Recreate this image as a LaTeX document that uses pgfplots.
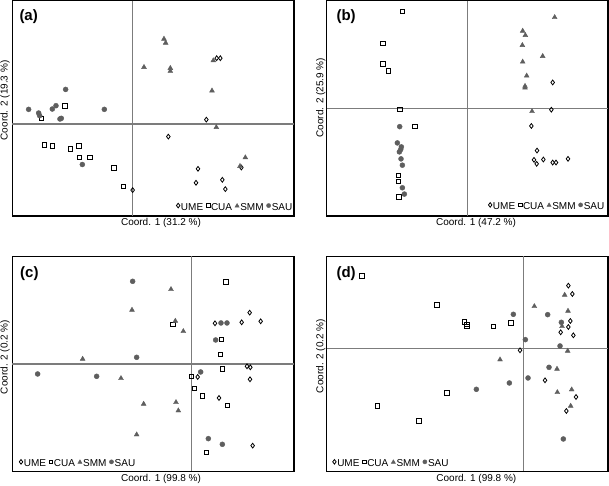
\documentclass[border=0pt]{standalone}
\usepackage{pgfplots}
\pgfplotsset{compat=1.18}
\usepackage{fontspec}
\setmainfont{Liberation Sans}
\definecolor{pt}{HTML}{5E5E5E}
\definecolor{ln}{HTML}{7C7C7C}
\tikzset{
  lab/.style={font=\fontsize{10}{12}\selectfont},
  plab/.style={font=\fontsize{15}{17}\selectfont\bfseries, anchor=west, inner sep=0pt},
}
\pgfplotsset{
  panel/.style={scale only axis, y dir=reverse, xtick=\empty, ytick=\empty,
    axis line style={line width=1.5pt}, clip=false,
    legend columns=-1,
    legend style={draw=none, fill=none, inner sep=0pt, outer sep=0pt,
      font=\fontsize{10}{12}\selectfont,
      nodes={inner sep=0.3pt},
      /tikz/every odd column/.append style={column sep=0.8pt},
      /tikz/every even column/.append style={column sep=2.6pt}}},
  ume/.style={only marks, mark=diamond, mark size=2.4pt, black, mark options={line width=0.8pt, fill=white},
    legend image code/.code={\draw[##1, mark size=2.3pt] plot coordinates {(0pt,1.8pt)};}},
  cua/.style={only marks, mark=square, mark size=2.2pt, black, mark options={line width=0.8pt, fill=white},
    legend image code/.code={\draw[##1, mark size=1.9pt] plot coordinates {(0pt,1.8pt)};}},
  smm/.style={only marks, mark=triangle*, mark size=2.8pt, pt, mark options={draw=pt, fill=pt},
    legend image code/.code={\draw[##1, mark size=2.4pt] plot coordinates {(0pt,1.5pt)};}},
  sau/.style={only marks, mark=*, mark size=2.5pt, pt, mark options={draw=pt, fill=pt},
    legend image code/.code={\draw[##1, mark size=2.1pt] plot coordinates {(0pt,1.8pt)};}},
}
\begin{document}
\begin{tikzpicture}
\useasboundingbox (0,0) rectangle (609pt,-485pt);
% ---------------- (a)
\begin{axis}[panel, at={(12.3pt,-0.7pt)}, anchor=north west, width=281.7pt, height=215.3pt,
  xmin=37, xmax=882, ymin=0, ymax=648,
  legend style={at={(axis cs:878,622)}, anchor=east}]
\draw[ln, line width=1.1pt] (axis cs:398,0) -- (axis cs:398,648);
\draw[ln, line width=1.1pt] (axis cs:37,371) -- (axis cs:882,371);
\addplot[ume] coordinates {(650,173) (661,173) (619,358) (505,409) (594,506) (588,548) (667,539) (676,567) (398,570) (724,502)};
\addplot[cua] coordinates {(195,316) (125,354) (134,434) (157,437) (211,446) (237,437) (238,472) (270,472) (342,503) (370,559)};
\addplot[smm] coordinates {(492,115) (497,127) (432,200) (511,203) (511,212) (640,180) (636,271) (649,381) (736,472) (720,498)};
\addplot[sau] coordinates {(197,267) (86,327) (116,338) (119,346) (157,326) (168,316) (180,356) (184,354) (313,327) (247,493)};
\legend{UME,CUA,SMM,SAU}
\node[plab] at (axis cs:58,48) {(a)};
\node[lab] at (axis cs:483,668) {Coord. 1 (31.2 \%)};
\node[lab, rotate=90] at (axis cs:15,300) {Coord. 2 (19.3 \%)};
\end{axis}
% ---------------- (b)
\begin{axis}[panel, at={(326.7pt,-0.7pt)}, anchor=north west, width=281.3pt, height=215.3pt,
  xmin=68, xmax=912, ymin=0, ymax=648,
  legend style={at={(axis cs:902,620)}, anchor=east}]
\draw[ln, line width=1.1pt] (axis cs:490,0) -- (axis cs:490,648);
\draw[ln, line width=1.1pt] (axis cs:68,325) -- (axis cs:912,325);
\addplot[ume] coordinates {(746,246) (742,328) (682,377) (699,451) (690,479) (698,491) (718,478) (746,487) (756,487) (792,476)};
\addplot[cua] coordinates {(295,33) (237,129) (237,190) (253,211) (288,327) (333,378) (284,526) (283,543) (285,590)};
\addplot[smm] coordinates {(752,50) (656,91) (664,104) (655,134) (716,167) (656,184) (668,226) (663,257) (663,262) (684,333)};
\addplot[sau] coordinates {(287,379) (280,428) (292,440) (290,448) (286,455) (291,476) (295,495) (295,563) (301,582)};
\legend{UME,CUA,SMM,SAU}
\node[plab] at (axis cs:97,47) {(b)};
\node[lab] at (axis cs:516,668) {Coord. 1 (47.2 \%)};
\node[lab, rotate=90] at (axis cs:50,292) {Coord. 2 (25.9 \%)};
\end{axis}
% ---------------- (c)
\begin{axis}[panel, at={(12.3pt,-256.3pt)}, anchor=north west, width=281.7pt, height=215pt,
  xmin=37, xmax=882, ymin=43, ymax=688,
  legend style={at={(axis cs:58,665)}, anchor=west}]
\draw[ln, line width=1.1pt] (axis cs:574,43) -- (axis cs:574,688);
\draw[ln, line width=1.1pt] (axis cs:37,366) -- (axis cs:882,366);
\addplot[ume] coordinates {(749,212) (645,244) (725,241) (782,238) (741,373) (751,376) (750,412) (593,405) (657,468) (758,611)};
\addplot[cua] coordinates {(678,120) (519,247) (664,292) (662,338) (667,381) (575,403) (583,440) (607,462) (683,491) (620,632)};
\addplot[smm] coordinates {(513,142) (396,204) (526,237) (550,268) (248,351) (363,409) (431,486) (528,481) (535,506) (410,578)};
\addplot[sau] coordinates {(398,118) (410,346) (113,396) (290,403) (602,390) (647,294) (663,243) (681,243) (625,590) (667,607)};
\legend{UME,CUA,SMM,SAU}
\node[plab] at (axis cs:60,95) {(c)};
\node[lab] at (axis cs:483,712) {Coord. 1 (99.8 \%)};
\node[lab, rotate=90] at (axis cs:15,345) {Coord. 2 (0.2 \%)};
\end{axis}
% ---------------- (d)
\begin{axis}[panel, at={(326.7pt,-256.3pt)}, anchor=north west, width=281.3pt, height=215pt,
  xmin=68, xmax=912, ymin=43, ymax=688,
  legend style={at={(axis cs:86,665)}, anchor=west}]
\draw[ln, line width=1.1pt] (axis cs:658,43) -- (axis cs:658,688);
\draw[ln, line width=1.1pt] (axis cs:68,320) -- (axis cs:912,320);
\addplot[ume] coordinates {(793,131) (805,156) (799,237) (793,255) (770,271) (808,280) (648,325) (723,415) (816,465) (787,507)};
\addplot[cua] coordinates {(174,102) (399,189) (482,240) (489,248) (489,253) (569,254) (621,243) (429,453) (220,492) (345,537)};
\addplot[smm] coordinates {(691,193) (782,159) (792,207) (774,253) (791,327) (588,353) (759,381) (760,451) (803,443) (800,492)};
\addplot[sau] coordinates {(628,217) (731,218) (664,293) (772,241) (768,312) (735,376) (672,408) (616,423) (517,442) (778,591)};
\legend{UME,CUA,SMM,SAU}
\node[plab] at (axis cs:97,96) {(d)};
\node[lab] at (axis cs:517,712) {Coord. 1 (99.8 \%)};
\node[lab, rotate=90] at (axis cs:50,342) {Coord. 2 (0.2 \%)};
\end{axis}
\end{tikzpicture}
\end{document}
